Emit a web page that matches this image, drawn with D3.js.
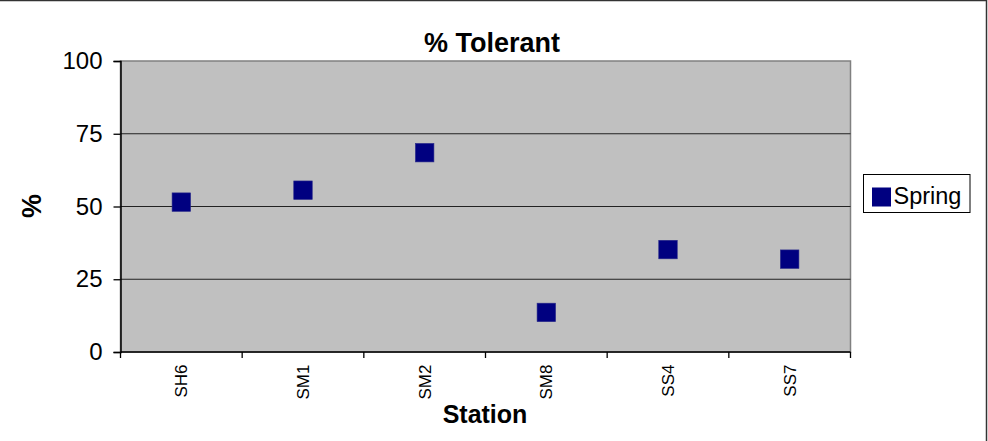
<!DOCTYPE html>
<html>
<head>
<meta charset="utf-8">
<script src="https://cdn.jsdelivr.net/npm/d3@7"></script>
<style>
  html, body { margin: 0; padding: 0; background: #fff; }
  svg { display: block; font-family: "Liberation Sans", Arial, sans-serif; }
</style>
</head>
<body>
<svg id="chart" width="988" height="441"></svg>
<script>
// Stations along the x axis and the spring % tolerant values
const stations = ["SH6", "SM1", "SM2", "SM8", "SS4", "SS7"];
const spring = [51.5, 55.6, 68.5, 13.6, 35.2, 31.9];
const yTicks = [0, 25, 50, 75, 100];
const seriesName = "Spring";

const svg = d3.select("#chart");
const W = 988, H = 441;
const plot = { left: 120.5, right: 850.5, top: 61, bottom: 352 };

// outer chart frame
svg.append("rect")
  .attr("x", -2).attr("y", 0.5)
  .attr("width", 988.5).attr("height", H + 5)
  .attr("fill", "#fff").attr("stroke", "#333").attr("stroke-width", 1.5);

const x = d3.scaleBand().domain(stations).range([plot.left, plot.right]).padding(0);
const y = d3.scaleLinear().domain([0, 100]).range([plot.bottom, plot.top]);

// plot area background
svg.append("rect")
  .attr("x", plot.left).attr("y", plot.top)
  .attr("width", plot.right - plot.left).attr("height", plot.bottom - plot.top)
  .attr("fill", "#c0c0c0").attr("stroke", "#808080").attr("stroke-width", 1.5);

// horizontal gridlines
svg.append("g").selectAll("line")
  .data(yTicks.filter(d => d > 0 && d < 100))
  .join("line")
  .attr("x1", plot.left).attr("x2", plot.right)
  .attr("y1", d => y(d)).attr("y2", d => y(d))
  .attr("stroke", "#222").attr("stroke-width", 1.2);

// y axis
const yAxis = svg.append("g")
  .attr("transform", `translate(${plot.left},0)`)
  .call(d3.axisLeft(y).tickValues(yTicks).tickSize(7).tickPadding(11));
yAxis.select(".domain").attr("stroke", "#000").attr("stroke-width", 1.5);
yAxis.selectAll(".tick line").attr("stroke", "#000").attr("stroke-width", 1.3);
yAxis.selectAll(".tick text")
  .attr("font-size", 24).attr("fill", "#000")
  .attr("font-family", "Liberation Sans, Arial, sans-serif");

// x axis line and tick marks at category boundaries
svg.append("line")
  .attr("x1", plot.left).attr("x2", plot.right)
  .attr("y1", plot.bottom).attr("y2", plot.bottom)
  .attr("stroke", "#000").attr("stroke-width", 1.5);
const bounds = stations.map(s => x(s)).concat([x(stations[stations.length - 1]) + x.bandwidth()]);
svg.append("g").selectAll("line")
  .data(bounds)
  .join("line")
  .attr("x1", d => d).attr("x2", d => d)
  .attr("y1", plot.bottom).attr("y2", plot.bottom + 6)
  .attr("stroke", "#000").attr("stroke-width", 1.3);

// rotated category labels
svg.append("g").selectAll("text")
  .data(stations)
  .join("text")
  .attr("transform", d => `translate(${x(d) + x.bandwidth() / 2},364.5) rotate(-90)`)
  .attr("text-anchor", "end")
  .attr("dy", "0.36em")
  .attr("font-size", 17)
  .attr("fill", "#000")
  .text(d => d);

// square markers
const size = 18.5;
svg.append("g").selectAll("rect")
  .data(stations.map((s, i) => ({ s, v: spring[i] })))
  .join("rect")
  .attr("x", d => x(d.s) + x.bandwidth() / 2 - size / 2)
  .attr("y", d => y(d.v) - size / 2)
  .attr("width", size).attr("height", size)
  .attr("fill", "#000080")
  .attr("stroke", "#2a2a8a").attr("stroke-width", 0.6);

// titles
svg.append("text")
  .attr("x", 492).attr("y", 52)
  .attr("text-anchor", "middle")
  .attr("font-size", 27).attr("font-weight", "bold")
  .text("% Tolerant");

svg.append("text")
  .attr("x", 485).attr("y", 423)
  .attr("text-anchor", "middle")
  .attr("font-size", 25).attr("font-weight", "bold")
  .text("Station");

svg.append("text")
  .attr("transform", "translate(41,206) rotate(-90)")
  .attr("text-anchor", "middle")
  .attr("font-size", 27).attr("font-weight", "bold")
  .text("%");

// legend
const lg = svg.append("g");
lg.append("rect")
  .attr("x", 863.5).attr("y", 174.5).attr("width", 106.5).attr("height", 38)
  .attr("fill", "#fff").attr("stroke", "#000").attr("stroke-width", 1);
lg.append("rect")
  .attr("x", 872).attr("y", 187.5).attr("width", 19).attr("height", 19)
  .attr("fill", "#000080");
lg.append("text")
  .attr("x", 893.5).attr("y", 203.5)
  .attr("font-size", 23.5).attr("fill", "#000")
  .text(seriesName);
</script>
</body>
</html>
